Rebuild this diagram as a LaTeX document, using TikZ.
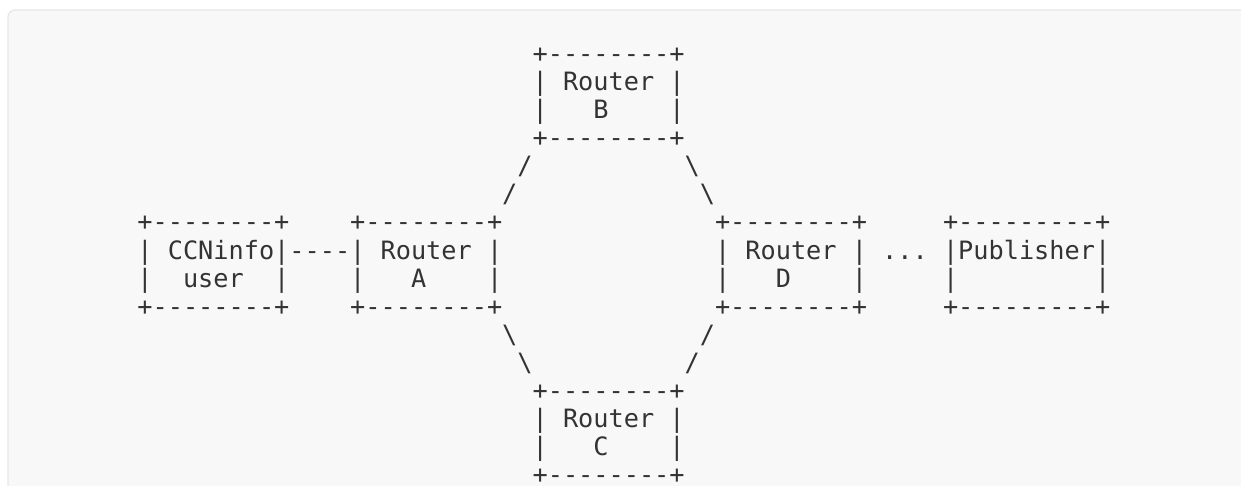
\documentclass[tikz,border=0pt]{standalone}
\usepackage{fontspec}
\setmonofont{DejaVu Sans Mono}
\definecolor{ink}{HTML}{333333}
\definecolor{panel}{HTML}{F8F8F8}
\definecolor{panelline}{HTML}{E6E6E6}
\frenchspacing
\tikzset{
  asc/.style={anchor=base west, inner sep=0pt, outer sep=0pt, text=ink,
    font=\ttfamily\fontsize{25.25}{28}\selectfont},
}
\newcommand\asciirow[4]{\node[asc] (#1) at ({137.4+15.2*(#2)},{63+28*((#3)-1)}) {#4};}
\begin{document}
\begin{tikzpicture}[x=1pt,y=-1pt]
\useasboundingbox (0,0) rectangle (1241,486);
\begin{scope}
\clip (0,0) rectangle (1241,486);
\draw[fill=panel, draw=panelline, line width=1.2pt, rounded corners=7pt] (8,10) rectangle (1270,520);
\end{scope}
% Router B
\asciirow{B1}{26}{1}{+--------+}
\asciirow{B2}{26}{2}{|~Router~|}
\asciirow{B3}{26}{3}{|~~~B~~~~|}
\asciirow{B4}{26}{4}{+--------+}
% slashes upper
\asciirow{s1}{25}{5}{/}
\asciirow{s2}{24}{6}{/}
\asciirow{s3}{36}{5}{\textbackslash}
\asciirow{s4}{37}{6}{\textbackslash}
% CCNinfo user
\asciirow{U1}{0}{7}{+--------+}
\asciirow{U2}{0}{8}{|~CCNinfo|}
\asciirow{U3}{0}{9}{|~~user~~|}
\asciirow{U4}{0}{10}{+--------+}
\asciirow{L1}{10}{8}{----}
% Router A
\asciirow{A1}{14}{7}{+--------+}
\asciirow{A2}{14}{8}{|~Router~|}
\asciirow{A3}{14}{9}{|~~~A~~~~|}
\asciirow{A4}{14}{10}{+--------+}
% Router D
\asciirow{D1}{38}{7}{+--------+}
\asciirow{D2}{38}{8}{|~Router~|}
\asciirow{D3}{38}{9}{|~~~D~~~~|}
\asciirow{D4}{38}{10}{+--------+}
\asciirow{dots}{49}{8}{...}
% Publisher
\asciirow{P1}{53}{7}{+---------+}
\asciirow{P2}{53}{8}{|Publisher|}
\asciirow{P3}{53}{9}{|~~~~~~~~~|}
\asciirow{P4}{53}{10}{+---------+}
% slashes lower
\asciirow{s5}{24}{11}{\textbackslash}
\asciirow{s6}{25}{12}{\textbackslash}
\asciirow{s7}{37}{11}{/}
\asciirow{s8}{36}{12}{/}
% Router C
\asciirow{C1}{26}{13}{+--------+}
\asciirow{C2}{26}{14}{|~Router~|}
\asciirow{C3}{26}{15}{|~~~C~~~~|}
\asciirow{C4}{26}{16}{+--------+}
\end{tikzpicture}
\end{document}
